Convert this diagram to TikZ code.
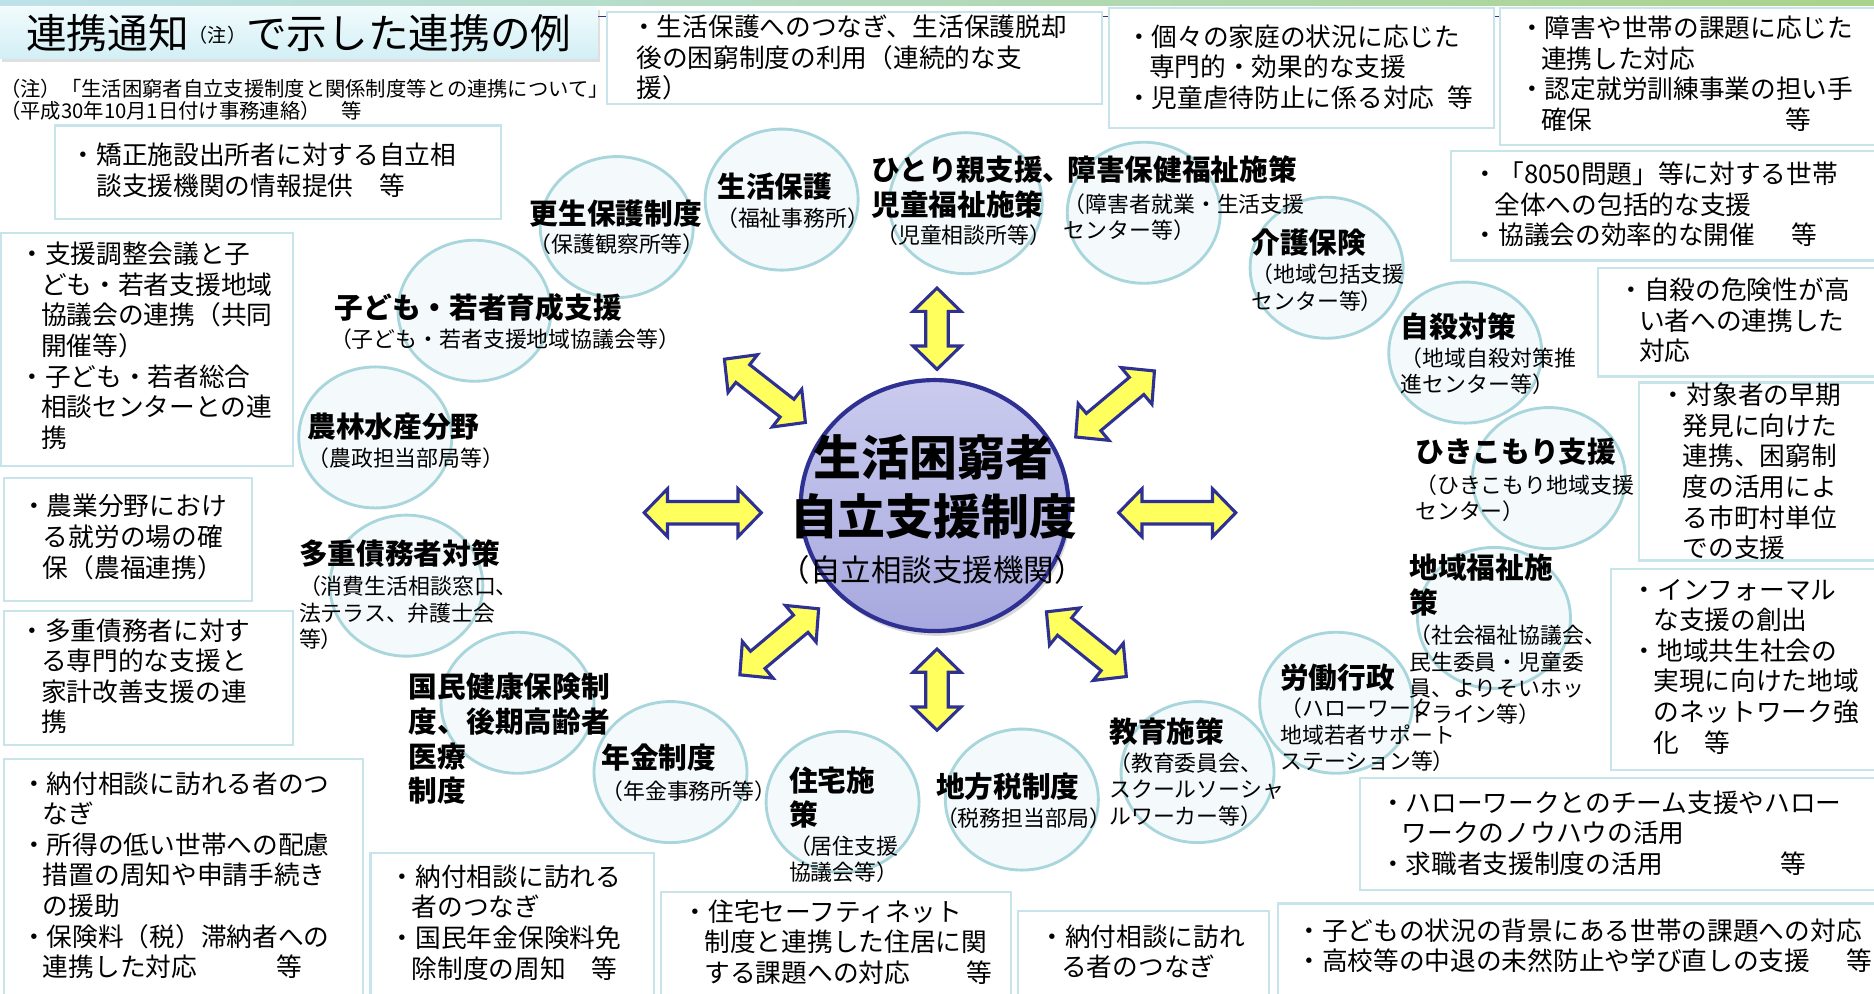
\documentclass[tikz,border=0pt]{standalone}
\usepackage{fontspec}
\setmainfont{Noto Sans CJK JP}
\usetikzlibrary{shapes.geometric,shadows,calc,backgrounds}
\definecolor{navy}{HTML}{2E3192}
\definecolor{arrowy}{HTML}{FFFF5E}
\definecolor{boxc}{HTML}{C6E4E9}
\definecolor{circc}{HTML}{A9D6DC}
\definecolor{circf}{HTML}{F4FAFB}
\definecolor{ctop}{HTML}{CACBEE}
\definecolor{cbot}{HTML}{A7A8DE}
\definecolor{bannerT}{HTML}{F1FBFD}
\definecolor{bannerB}{HTML}{D2EFF5}
\definecolor{bandL}{HTML}{BDE2EA}
\definecolor{bandR}{HTML}{A9D28A}
\newcommand{\dblarr}[4]{%
  \begin{scope}[shift={(#2)}, rotate=#3]
    \coordinate (#1) at (0,0);
    \draw[yarrow] (-#4,0) -- (-#4+19.5,-20) -- (-#4+19.5,-9.4) -- (#4-19.5,-9.4) -- (#4-19.5,-20) -- (#4,0) -- (#4-19.5,20) -- (#4-19.5,9.4) -- (-#4+19.5,9.4) -- (-#4+19.5,20) -- cycle;
  \end{scope}}
\begin{document}
\begin{tikzpicture}[x=1pt,y=-1pt,
  box/.style={rectangle, draw=boxc, line width=1.8pt, fill=white, inner sep=0pt},
  circnode/.style={ellipse, fill=circf, minimum width=128pt, minimum height=118pt, inner sep=0pt},
  circline/.style={draw=circc, line width=2.4pt},
  conn/.style={draw=circc, line width=1.2pt},
  btxt/.style={inner sep=0pt, anchor=north west, align=left, font=\fontsize{21.5}{25.6}\selectfont},
  ttl/.style={inner sep=0pt, anchor=north west, align=left, font=\bfseries\fontsize{24}{29}\selectfont},
  sub/.style={inner sep=0pt, anchor=north west, align=left, font=\fontsize{18.3}{22}\selectfont},
  yarrow/.style={fill=arrowy, draw=navy, line width=2.6pt, line join=miter},
  banner/.style={rectangle, minimum width=500pt, minimum height=43pt, inner sep=0pt, top color=bannerT, bottom color=bannerB, drop shadow={opacity=0.25, shadow xshift=2pt, shadow yshift=-2.5pt}}
]
\useasboundingbox (0,0) rectangle (1568,831);
\fill[white] (0,0) rectangle (1568,831);

% top band and rule
\fill[left color=bandL, right color=bandR] (0,0) rectangle (1568,5);
\draw[navy, line width=1.1pt] (500,14) -- (1568,14);

% title
\node[banner] (title) at (250,27.5) {{\fontsize{34}{40}\selectfont 連携通知}\raisebox{5pt}{\fontsize{16}{20}\selectfont （注）}{\fontsize{34}{40}\selectfont で示した連携の例}};
\node[inner sep=0pt, anchor=north west, align=left, font=\fontsize{17}{18.5}\selectfont] (note) at (0,66.3) {（注）「生活困窮者自立支援制度と関係制度等との連携について」\\（平成30年10月1日付け事務連絡）　等};

% circles (fills)
\node[circnode] (cA) at (516,190) {};
\node[circnode] (c2) at (654,167) {};
\node[circnode] (c3) at (808,170) {};
\node[circnode] (c4) at (957,178) {};
\node[circnode] (c5) at (1110,224) {};
\node[circnode] (c6) at (1226,295) {};
\node[circnode] (c7) at (1296,400) {};
\node[circnode] (c8) at (1250,517) {};
\node[circnode] (c9) at (1118,588) {};
\node[circnode] (c10) at (1002,646) {};
\node[circnode] (c11) at (855,669) {};
\node[circnode] (c12) at (705,671) {};
\node[circnode] (c13) at (561,646) {};
\node[circnode] (c14) at (433,588) {};
\node[circnode] (c15) at (340,490) {};
\node[circnode] (c16) at (314,366) {};
\node[circnode] (c17) at (397,260) {};
\foreach \n in {cA,c2,c3,c4,c5,c6,c7,c8,c9,c10,c11,c12,c13,c14,c15,c16,c17}
  \draw[circline] (\n.center) ellipse [x radius=64pt, y radius=59pt];

% boxes
\node[box, minimum width=373pt, minimum height=78pt] (bA) at (232.5,144) {};
\node[box, minimum width=414pt, minimum height=77pt] (b1) at (715,48.5) {};
\node[box, minimum width=322pt, minimum height=100pt] (b2) at (1089,57) {};
\node[box, minimum width=315pt, minimum height=114pt] (b3) at (1412.5,64) {};
\node[box, minimum width=356pt, minimum height=92pt] (b4) at (1392,172) {};
\node[box, minimum width=233pt, minimum height=91pt] (b5) at (1453.5,269.5) {};
\node[box, minimum width=199pt, minimum height=149pt] (b6) at (1470.5,394.5) {};
\node[box, minimum width=222pt, minimum height=168pt] (b7) at (1459,560) {};
\node[box, minimum width=432pt, minimum height=94pt] (b8) at (1354,698) {};
\node[box, minimum width=501pt, minimum height=77pt] (b9) at (1319.5,794.5) {};
\node[box, minimum width=210pt, minimum height=71pt] (b10) at (957,797.5) {};
\node[box, minimum width=293pt, minimum height=87pt] (b11) at (699.5,789.5) {};
\node[box, minimum width=237pt, minimum height=119pt] (b12) at (428.5,773.5) {};
\node[box, minimum width=301pt, minimum height=198pt] (b13) at (153.5,734) {};
\node[box, minimum width=242pt, minimum height=112pt] (b14) at (124,567) {};
\node[box, minimum width=208pt, minimum height=103pt] (b15) at (107,451.5) {};
\node[box, minimum width=244pt, minimum height=195pt] (b16) at (123,292.5) {};

\coordinate (k4) at (1090,160);

% connectors
\begin{pgfonlayer}{background}
\draw[conn] (bA.east) -- (cA.156);
\draw[conn] ($(b1.south west)!0.15!(b1.south east)$) -- (c2.137);
\draw[conn] ($(b2.north west)!0.85!(b2.south west)$) -- (c3.38);
\draw[conn] ($(b3.north west)!0.91!(b3.south west)$) -- (k4);
\draw[conn] (b4.west) -- (c5.35);
\draw[conn] ($(b5.north west)!0.37!(b5.south west)$) -- (c6.11);
\draw[conn] ($(b6.north west)!0.28!(b6.south west)$) -- (c7.16);
\draw[conn] (b7.west) -- (c8.342);
\draw[conn] (c9.336) -- ($(b8.north west)!0.26!(b8.north east)$);
\draw[conn] (c10.319) -- ($(b9.north west)!0.11!(b9.north east)$);
\draw[conn] (c11.323) -- (b10.north);
\draw[conn] (c12.219) -- ($(b11.north west)!0.21!(b11.north east)$);
\draw[conn] (c13.219) -- ($(b12.north west)!0.63!(b12.north east)$);
\draw[conn] (c14.215) -- ($(b13.north east)!0.23!(b13.south east)$);
\draw[conn] (c15.221) -- ($(b14.north east)!0.56!(b14.south east)$);
\draw[conn] (c16.222) -- ($(b15.north east)!0.62!(b15.south east)$);
\draw[conn] (c17.190) -- ($(b16.north east)!0.41!(b16.south east)$);
\end{pgfonlayer}

% arrows
\dblarr{aT}{784,275}{90}{34}
\dblarr{aB}{784,577}{90}{34}
\dblarr{aL}{588,429}{0}{49}
\dblarr{aR}{985,429}{0}{49}
\dblarr{aUL}{640,327}{-38}{43}
\dblarr{aUR}{933,338}{40}{43}
\dblarr{aLL}{652,537}{40}{43}
\dblarr{aLR}{909,539}{-39}{43}

% central circle
\node[ellipse, minimum width=224pt, minimum height=210pt, inner sep=0pt, top color=ctop, bottom color=cbot, draw=navy, line width=3.5pt, drop shadow={opacity=0.3, shadow xshift=2pt, shadow yshift=-4pt}] (center) at (782,423) {};
\node[inner sep=0pt, font=\bfseries\fontsize{40}{48}\selectfont] (ct1) at (781,383) {生活困窮者};
\node[inner sep=0pt, font=\bfseries\fontsize{40}{48}\selectfont] (ct2) at (781,432) {自立支援制度};
\node[inner sep=0pt, font=\fontsize{25.5}{30}\selectfont] (ct3) at (780,477) {（自立相談支援機関）};

% box texts
\node[btxt] (tA) at (59,119.3) {・矯正施設出所者に対する自立相\\\hspace*{1em}談支援機関の情報提供　等};
\node[btxt] (t1) at (528,12.3) {・生活保護へのつなぎ、生活保護脱却\\\hspace*{0.2em}後の困窮制度の利用（連続的な支\\\hspace*{0.2em}援）};
\node[btxt] (t2) at (942,20.3) {・個々の家庭の状況に応じた\\\hspace*{0.9em}専門的・効果的な支援\\・児童虐待防止に係る対応\hspace{0.5em}等};
\node[btxt] (t3) at (1271,13.3) {・障害や世帯の課題に応じた\\\hspace*{0.85em}連携した対応\\・認定就労訓練事業の担い手\\\hspace*{0.85em}確保\hspace{7.5em}等};
\node[btxt] (t4) at (1232,135.3) {・「8050問題」等に対する世帯\\\hspace*{0.85em}全体への包括的な支援\\・協議会の効率的な開催\hspace{1.4em}等};
\node[btxt] (t5) at (1354,232.3) {・自殺の危険性が高\\\hspace*{0.8em}い者への連携した\\\hspace*{0.8em}対応};
\node[btxt] (t6) at (1389.5,320.3) {・対象者の早期\\\hspace*{0.85em}発見に向けた\\\hspace*{0.85em}連携、困窮制\\\hspace*{0.85em}度の活用によ\\\hspace*{0.85em}る市町村単位\\\hspace*{0.85em}での支援};
\node[btxt] (t7) at (1365,484.3) {・インフォーマル\\\hspace*{0.85em}な支援の創出\\・地域共生社会の\\\hspace*{0.85em}実現に向けた地域\\\hspace*{0.85em}のネットワーク強\\\hspace*{0.85em}化　等};
\node[btxt] (t8) at (1154.5,661.3) {・ハローワークとのチーム支援やハロー\\\hspace*{0.85em}ワークのノウハウの活用\\・求職者支援制度の活用\hspace{4.6em}等};
\node[btxt] (t9) at (1084.5,768.3) {・子どもの状況の背景にある世帯の課題への対応\\・高校等の中退の未然防止や学び直しの支援\hspace{1.4em}等};
\node[btxt] (t10) at (869.5,773.3) {・納付相談に訪れ\\\hspace*{0.85em}る者のつなぎ};
\node[btxt] (t11) at (571,752.3) {・住宅セーフティネット\\\hspace*{0.85em}制度と連携した住居に関\\\hspace*{0.85em}する課題への対応\hspace{2.2em}等};
\node[btxt] (t12) at (326,723.3) {・納付相談に訪れる\\\hspace*{0.85em}者のつなぎ\\・国民年金保険料免\\\hspace*{0.85em}除制度の周知　等};
\node[btxt] (t13) at (17.5,645.3) {・納付相談に訪れる者のつ\\\hspace*{0.85em}なぎ\\・所得の低い世帯への配慮\\\hspace*{0.85em}措置の周知や申請手続き\\\hspace*{0.85em}の援助\\・保険料（税）滞納者への\\\hspace*{0.85em}連携した対応\hspace{3.1em}等};
\node[btxt] (t14) at (16,517.3) {・多重債務者に対す\\\hspace*{0.85em}る専門的な支援と\\\hspace*{0.85em}家計改善支援の連\\\hspace*{0.85em}携};
\node[btxt] (t15) at (17.5,413.3) {・農業分野におけ\\\hspace*{0.85em}る就労の場の確\\\hspace*{0.85em}保（農福連携）};
\node[btxt] (t16) at (16,202.3) {・支援調整会議と子\\\hspace*{0.85em}ども・若者支援地域\\\hspace*{0.85em}協議会の連携（共同\\\hspace*{0.85em}開催等）\\・子ども・若者総合\\\hspace*{0.85em}相談センターとの連\\\hspace*{0.85em}携};

% circle titles
\node[ttl] (nA) at (443,167.2) {更生保護制度};
\node[ttl] (n2) at (600,144.2) {生活保護};
\node[ttl] (n3) at (729,130.2) {ひとり親支援、\\児童福祉施策};
\node[ttl] (n4) at (893,130.2) {障害保健福祉施策};
\node[ttl] (n5) at (1047,191.2) {介護保険};
\node[ttl] (n6) at (1172,261.2) {自殺対策};
\node[ttl] (n7) at (1184,366.2) {ひきこもり支援};
\node[ttl] (n8) at (1179,463.2) {地域福祉施\\策};
\node[ttl] (n9) at (1071,555.2) {労働行政};
\node[ttl] (n10) at (928,600.2) {教育施策};
\node[ttl] (n11) at (783,646.2) {地方税制度};
\node[ttl] (n12) at (660,641.2) {住宅施\\策};
\node[ttl] (n13) at (503,622.2) {年金制度};
\node[ttl] (n14) at (342,563.2) {国民健康保険制\\度、後期高齢者\\医療\\制度};
\node[ttl] (n15) at (250,451.2) {多重債務者対策};
\node[ttl] (n16) at (257,345.2) {農林水産分野};
\node[ttl] (n17) at (280,245.2) {子ども・若者育成支援};

% circle subtitles
\node[sub] (sA) at (443,195.8) {（保護観察所等）};
\node[sub] (s2) at (599,173.8) {（福祉事務所）};
\node[sub] (s3) at (733,187.8) {（児童相談所等）};
\node[sub] (s4) at (890,161.8) {（障害者就業・生活支援\\センター等）};
\node[sub] (s5) at (1047,220.8) {（地域包括支援\\センター等）};
\node[sub] (s6) at (1172,290.8) {（地域自殺対策推\\進センター等）};
\node[sub] (s7) at (1184,396.8) {（ひきこもり地域支援\\センター）};
\node[sub] (s8) at (1179,522.8) {（社会福祉協議会、\\民生委員・児童委\\員、よりそいホッ\\トライン等）};
\node[sub] (s9) at (1071,583.8) {（ハローワーク\\地域若者サポート\\ステーション等）};
\node[sub] (s10) at (928,629.8) {（教育委員会、\\スクールソーシャ\\ルワーカー等）};
\node[sub] (s11) at (783,675.8) {（税務担当部局）};
\node[sub] (s12) at (660,698.8) {（居住支援\\協議会等）};
\node[sub] (s13) at (503,652.8) {（年金事務所等）};
\node[sub] (s15) at (250,481.8) {（消費生活相談窓口、\\法テラス、弁護士会\\等）};
\node[sub] (s16) at (257,374.8) {（農政担当部局等）};
\node[sub] (s17) at (276,274.8) {（子ども・若者支援地域協議会等）};
\end{tikzpicture}
\end{document}
